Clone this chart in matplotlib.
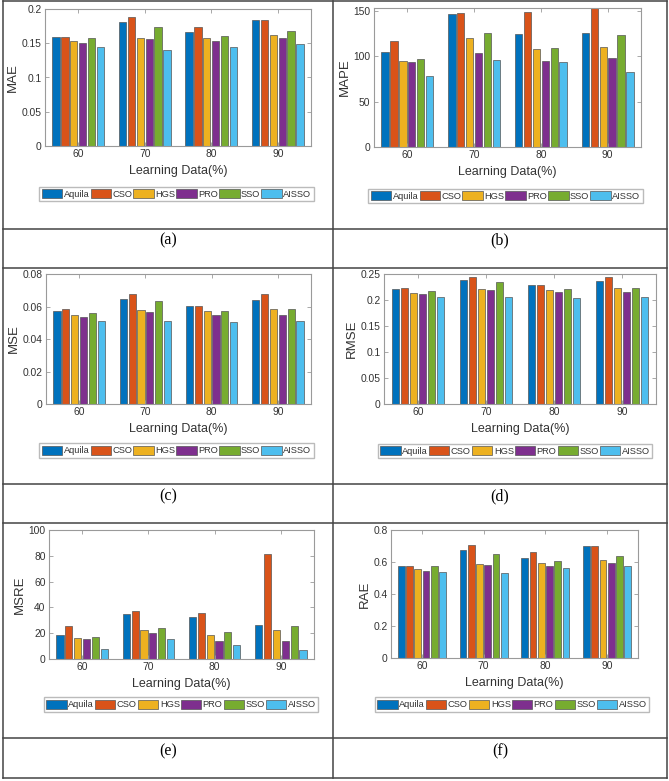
import matplotlib
matplotlib.use("Agg")
import matplotlib.pyplot as plt
import numpy as np
from matplotlib.lines import Line2D
from matplotlib.patches import Patch

plt.rcParams['font.family'] = ['Liberation Sans', 'DejaVu Sans']

categories = ['60', '70', '80', '90']
methods = ['Aquila', 'CSO', 'HGS', 'PRO', 'SSO', 'AISSO']
colors = ['#0072BD', '#D95319', '#EDB120', '#7E2F8E', '#77AC30', '#4DBEEE']

# values per method (rows), per learning percentage (cols)
mae = [[0.159, 0.181, 0.166, 0.1834],
       [0.159, 0.1883, 0.1737, 0.1834],
       [0.1537, 0.158, 0.1576, 0.1615],
       [0.1498, 0.1566, 0.1527, 0.157],
       [0.1576, 0.1737, 0.161, 0.1683],
       [0.1439, 0.1405, 0.1444, 0.1483]]
mape = [[105.0, 146.3, 124.8, 125.9],
        [116.7, 147.0, 148.9, 158.0],
        [95.1, 119.6, 107.9, 110.1],
        [93.3, 103.5, 94.4, 97.7],
        [97.3, 125.5, 109.0, 123.3],
        [78.3, 95.9, 94.0, 82.7]]
mse = [[0.0575, 0.0647, 0.0606, 0.0642],
       [0.0587, 0.0679, 0.0606, 0.0679],
       [0.0546, 0.0577, 0.0571, 0.0585],
       [0.0534, 0.0565, 0.0550, 0.0546],
       [0.0561, 0.0634, 0.0573, 0.0585],
       [0.0512, 0.0512, 0.0507, 0.0512]]
rmse = [[0.2218, 0.2378, 0.2288, 0.2372],
        [0.2237, 0.2449, 0.2288, 0.2449],
        [0.2141, 0.2218, 0.2199, 0.2237],
        [0.2115, 0.2186, 0.2154, 0.2147],
        [0.2179, 0.2346, 0.2212, 0.2237],
        [0.2058, 0.2058, 0.2045, 0.2058]]
msre = [[18.8, 35.0, 32.5, 26.5],
        [25.3, 37.4, 35.8, 81.4],
        [16.2, 22.2, 18.6, 22.4],
        [15.2, 19.8, 14.2, 14.2],
        [17.0, 24.0, 20.9, 25.5],
        [8.0, 15.7, 10.8, 7.0]]
rae = [[0.578, 0.673, 0.628, 0.698],
       [0.578, 0.706, 0.661, 0.698],
       [0.559, 0.588, 0.594, 0.611],
       [0.544, 0.580, 0.576, 0.592],
       [0.573, 0.650, 0.609, 0.638],
       [0.536, 0.534, 0.561, 0.574]]

W, H = 669, 781
fig = plt.figure(figsize=(W / 100, H / 100), dpi=100)


def rect(l, t, r, b):
    return [l / W, 1 - b / H, (r - l) / W, (b - t) / H]


panels = [
    (mae, 'MAE', (45, 9, 311, 146), (0, 0.2), [0, 0.05, 0.1, 0.15, 0.2], ['0', '0.05', '0.1', '0.15', '0.2'],
     (42, 187, 311, 201), '(a)', (168, 240)),
    (mape, 'MAPE', (374, 8, 641, 147), (0, 153), [0, 50, 100, 150], ['0', '50', '100', '150'],
     (371, 190, 640, 202), '(b)', (500, 240)),
    (mse, 'MSE', (46, 274, 311, 404), (0, 0.08), [0, 0.02, 0.04, 0.06, 0.08], ['0', '0.02', '0.04', '0.06', '0.08'],
     (42, 444, 311, 457), '(c)', (168, 496)),
    (rmse, 'RMSE', (384, 274, 656, 404), (0, 0.25), [0, 0.05, 0.1, 0.15, 0.2, 0.25],
     ['0', '0.05', '0.1', '0.15', '0.2', '0.25'], (374, 445, 656, 457), '(d)', (500, 496)),
    (msre, 'MSRE', (49, 530, 314, 659), (0, 100), [0, 20, 40, 60, 80, 100], ['0', '20', '40', '60', '80', '100'],
     (48, 698, 314, 711), '(e)', (168, 751)),
    (rae, 'RAE', (391, 530, 638, 658), (0, 0.8), [0, 0.2, 0.4, 0.6, 0.8], ['0', '0.2', '0.4', '0.6', '0.8'],
     (387, 698, 637, 711), '(f)', (500, 751)),
]

x = np.arange(1, len(categories) + 1)
n = len(methods)
slot = 0.8 / n
bw = slot * 0.82
spine_col = '#9a9a9a'
txt_col = '#333333'

for data, ylabel, ax_px, ylim, yt, ytl, leg_px, cap, cap_pos in panels:
    ax = fig.add_axes(rect(*ax_px))
    for i, (m, c) in enumerate(zip(methods, colors)):
        offs = (i - (n - 1) / 2) * slot
        ax.bar(x + offs, data[i], width=bw, color=c, edgecolor='#555555', linewidth=0.5, label=m)
    ax.set_xlim(0.5, 4.5)
    ax.set_ylim(*ylim)
    ax.set_xticks(x)
    ax.set_xticklabels(categories)
    ax.set_yticks(yt)
    ax.set_yticklabels(ytl)
    ax.tick_params(direction='in', length=3, width=0.6, top=True, right=True, colors=spine_col,
                   labelcolor=txt_col, labelsize=7.4, pad=2.5)
    for s in ax.spines.values():
        s.set_color(spine_col)
        s.set_linewidth(0.8)
    ax.set_ylabel(ylabel, fontsize=9.5, color=txt_col, labelpad=2)
    ax.set_xlabel('Learning Data(%)', fontsize=9, color=txt_col, labelpad=4)

    l, t, r, b = leg_px
    handles = [Patch(facecolor=c, edgecolor='#555555', linewidth=0.5) for c in colors]
    fig.legend(handles, methods, loc='center', ncol=6,
               bbox_to_anchor=((l + r) / 2 / W, 1 - (t + b) / 2 / H),
               bbox_transform=fig.transFigure, fontsize=6.7, frameon=True, fancybox=False,
               edgecolor='#aaaaaa', borderpad=0.25, handlelength=2.2, handleheight=1.1,
               handletextpad=0.15, columnspacing=0.12, borderaxespad=0, labelcolor=txt_col)

    fig.text(cap_pos[0] / W, 1 - cap_pos[1] / H, cap, ha='center', va='center',
             fontsize=11.5, family=['Liberation Serif', 'DejaVu Serif'], color='black')

# table lines
line_col = '#444444'
for yy in [1, 229, 268, 484, 523, 738, 778]:
    fig.add_artist(Line2D([3 / W, 667 / W], [1 - yy / H, 1 - yy / H], transform=fig.transFigure,
                          color=line_col, lw=1.1))
for xx in [3, 332.5, 667]:
    fig.add_artist(Line2D([xx / W, xx / W], [1 - 1 / H, 1 - 778 / H], transform=fig.transFigure,
                          color=line_col, lw=1.1))

fig.savefig('out.png', dpi=100)
